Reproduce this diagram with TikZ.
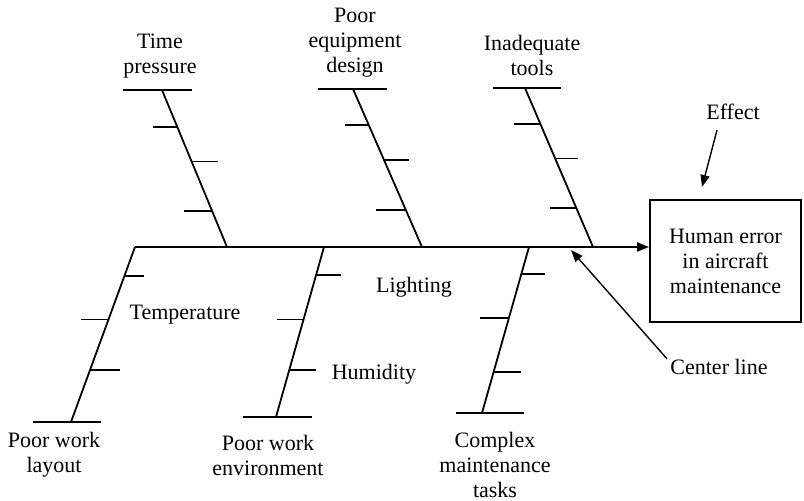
\documentclass[tikz,border=0pt]{standalone}
\usepackage{fontspec}
\setmainfont{Liberation Serif}
\usetikzlibrary{arrows.meta,calc}

\begin{document}
\begin{tikzpicture}[x=0.5pt,y=-0.5pt,
    bone/.style={line width=0.9pt},
    bar/.style={line width=1.3pt},
    tick/.style={line width=0.9pt},
    head/.style={-{Triangle[length=6pt,width=4.5pt]}},
    pointer/.style={line width=0.7pt,head},
    cause/.style={font=\fontsize{11}{12.5}\selectfont,align=center,inner sep=0pt}]
    \useasboundingbox (0,0) rectangle (804,501);

    % effect box and spine
    \node[draw,line width=0.9pt,minimum width=75.5pt,minimum height=61pt,cause] (box) at (725.5,261) {Human error\\in aircraft\\maintenance};
    \coordinate (sp) at (135,247);
    \draw[bone,head] (sp) -- (sp -| box.west);

    % upper bones
    \coordinate (b1t) at (162,90);
    \coordinate (b1b) at (227,247);
    \coordinate (b2t) at (353,89);
    \coordinate (b2b) at (422,247);
    \coordinate (b3t) at (525,88);
    \coordinate (b3b) at (593,247);
    \draw[bone] (b1t) -- (b1b);
    \draw[bone] (b2t) -- (b2b);
    \draw[bone] (b3t) -- (b3b);
    \draw[bar] (b1t) ++(-39,0) -- ++(69,0);
    \draw[bar] (b2t) ++(-35,0) -- ++(69,0);
    \draw[bar] (b3t) ++(-32,0) -- ++(68,0);

    \draw[tick] ($(b1t)!0.234!(b1b)$) -- ++(-24,0);
    \draw[tick] ($(b1t)!0.456!(b1b)$) -- ++(26,0);
    \draw[tick] ($(b1t)!0.772!(b1b)$) -- ++(-28,0);
    \draw[tick] ($(b2t)!0.228!(b2b)$) -- ++(-24,0);
    \draw[tick] ($(b2t)!0.449!(b2b)$) -- ++(25,0);
    \draw[tick] ($(b2t)!0.766!(b2b)$) -- ++(-30,0);
    \draw[tick] ($(b3t)!0.228!(b3b)$) -- ++(-27,0);
    \draw[tick] ($(b3t)!0.443!(b3b)$) -- ++(23,0);
    \draw[tick] ($(b3t)!0.753!(b3b)$) -- ++(-26,0);

    % lower bones
    \coordinate (b4t) at (135,247);
    \coordinate (b4b) at (71,422);
    \coordinate (b5t) at (324,247);
    \coordinate (b5b) at (276,417);
    \coordinate (b6t) at (529,247);
    \coordinate (b6b) at (482,413);
    \draw[bone] (b4t) -- (b4b);
    \draw[bone] (b5t) -- (b5b);
    \draw[bone] (b6t) -- (b6b);
    \draw[bar] (b4b) ++(-38,0) -- ++(68,0);
    \draw[bar] (b5b) ++(-33,0) -- ++(69,0);
    \draw[bar] (b6b) ++(-26,0) -- ++(68,0);

    \draw[tick] ($(b4t)!0.167!(b4b)$) -- ++(20,0);
    \draw[tick] ($(b4t)!0.414!(b4b)$) -- ++(-28,0);
    \draw[tick] ($(b4t)!0.701!(b4b)$) -- ++(30,0);
    \draw[tick] ($(b5t)!0.166!(b5b)$) -- ++(25,0);
    \draw[tick] ($(b5t)!0.426!(b5b)$) -- ++(-27,0);
    \draw[tick] ($(b5t)!0.722!(b5b)$) -- ++(27,0);
    \draw[tick] ($(b6t)!0.163!(b6b)$) -- ++(24,0);
    \draw[tick] ($(b6t)!0.428!(b6b)$) -- ++(-29,0);
    \draw[tick] ($(b6t)!0.753!(b6b)$) -- ++(27,0);

    % labels
    \node[cause] (tp) at (160,56) {Time\\pressure};
    \node[cause] (ped) at (355,43) {Poor\\equipment\\design};
    \node[cause] (it) at (532,55) {Inadequate\\tools};
    \node[cause] (pwl) at (54,455) {Poor work\\layout};
    \node[cause] (pwe) at (268,455) {Poor work\\environment};
    \node[cause] (cmt) at (495,465) {Complex\\maintenance\\tasks};
    \node[cause] (temp) at (185,315) {Temperature};
    \node[cause] (lig) at (414,287) {Lighting};
    \node[cause] (hum) at (374,374) {Humidity};
    \node[cause] (eff) at (733,112) {Effect};
    \node[cause] (cl) at (719,367) {Center line};

    % pointers
    \coordinate (effhd) at (702,187);
    \coordinate (clhd) at (571,250);
    \draw[pointer] ([shift={(-16,10)}]eff.south) -- (effhd);
    \draw[pointer] ([shift={(-3,0)}]cl.north west) -- (clhd);
\end{tikzpicture}
\end{document}
